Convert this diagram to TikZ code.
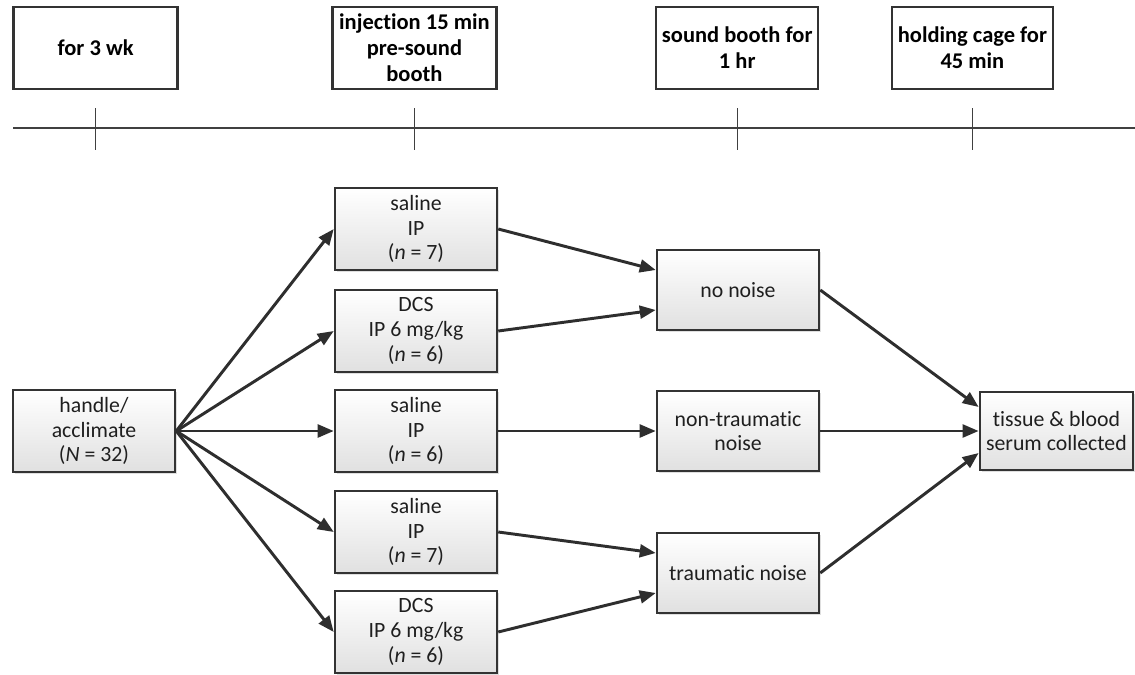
\documentclass[tikz,border=0pt]{standalone}
\usepackage{fontspec}
\setmainfont{Carlito}[Ligatures=NoCommon]
\usepackage{tikz}
\usetikzlibrary{arrows.meta}
\usetikzlibrary{shadows,positioning,calc}

\begin{document}
\begin{tikzpicture}[
	phase/.style={draw=black!80, line width=1.6pt, fill=white, align=center,
		minimum width=4.1cm, minimum height=2.05cm, inner sep=1pt,
		font=\fontsize{16}{18.5}\selectfont\bfseries},
	group/.style={draw=black!80, line width=1.8pt, align=center, text=black!88,
		top color=white, bottom color=black!12,
		drop shadow={shadow xshift=1.2pt, shadow yshift=-1.2pt, opacity=0.25},
		minimum width=4.05cm, minimum height=2.05cm, inner sep=1pt,
		font=\fontsize{15.5}{17.5}\selectfont},
	flow/.style={draw=black!82, line width=2.1pt, -{Triangle[length=4mm,width=3.2mm]}}
	]
	\useasboundingbox (0,0) rectangle (28.375,-16.85);

	% time line
	\node[phase] (p1) at (2.39,-1.2) {for 3 wk};
	\node[phase] (p2) at (10.36,-1.2) {injection 15 min\\pre-sound\\booth};
	\node[phase, minimum width=4.05cm] (p3) at (18.43,-1.2) {sound booth for\\1 hr};
	\node[phase, minimum width=4.03cm] (p4) at (24.31,-1.2) {holding cage for\\45 min};
	\draw[line width=1pt, black!75] (0.33,-3.2) -- (28.375,-3.2);
	\foreach \p in {p1,p2,p3,p4}
		\draw[line width=1pt, black!75] (\p.south |- 0,-2.7) -- (\p.south |- 0,-3.75);

	% groups
	\node[group] (start) at (2.35,-10.775) {handle/\\acclimate\\(\textit{N} = 32)};
	\node[group] (g1) at (10.4,-5.725) {saline\\IP\\(\textit{n} = 7)};
	\node[group] (g2) at (10.4,-8.275) {DCS\\IP 6 mg/kg\\(\textit{n} = 6)};
	\node[group] (g3) at (10.4,-10.775) {saline\\IP\\(\textit{n} = 6)};
	\node[group] (g4) at (10.4,-13.3) {saline\\IP\\(\textit{n} = 7)};
	\node[group] (g5) at (10.4,-15.8) {DCS\\IP 6 mg/kg\\(\textit{n} = 6)};

	\node[group, minimum height=2cm] (quiet) at (18.45,-7.25) {no noise};
	\node[group, minimum height=2cm] (mild) at (18.45,-10.775) {non-traumatic\\noise};
	\node[group, minimum height=2cm] (loud) at (18.45,-14.325) {traumatic noise};

	\node[group, minimum width=3.825cm, minimum height=1.95cm] (end) at (26.41,-10.775) {tissue \& blood\\serum collected};

	% connectors
	\foreach \g in {g1,g2,g3,g4,g5}
		\draw[flow] (start.east) -- (\g.west);
	\draw[flow] (g1.east) -- ([yshift=0.5cm]quiet.west);
	\draw[flow] (g2.east) -- ([yshift=-0.5cm]quiet.west);
	\draw[flow] (g3.east) -- (mild.west);
	\draw[flow] (g4.east) -- ([yshift=0.5cm]loud.west);
	\draw[flow] (g5.east) -- ([yshift=-0.5cm]loud.west);
	\draw[flow] (quiet.east) -- ([yshift=0.6cm]end.west);
	\draw[flow] (mild.east) -- (end.west);
	\draw[flow] (loud.east) -- ([yshift=-0.55cm]end.west);
\end{tikzpicture}
\end{document}
